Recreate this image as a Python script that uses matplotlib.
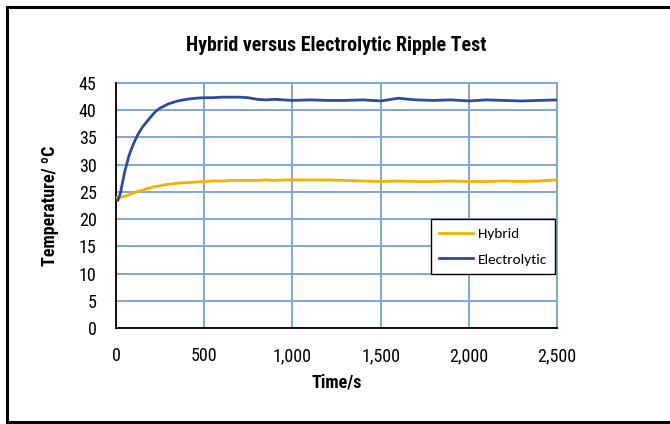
import matplotlib
matplotlib.use("Agg")
import matplotlib.pyplot as plt
from matplotlib.ticker import FuncFormatter
from matplotlib.lines import Line2D

# Data
time_s = [0, 10, 25, 50, 75, 100, 125, 150, 175, 200, 225, 250, 275, 300, 350, 400, 450, 500,
          550, 600, 650, 700, 750, 800, 850, 900, 950, 1000, 1100, 1200, 1300, 1400, 1500,
          1600, 1700, 1800, 1900, 2000, 2100, 2200, 2300, 2400, 2500]
hybrid = [23.9, 24.0, 24.0, 24.2, 24.5, 24.8, 25.1, 25.3, 25.6, 25.8, 26.0, 26.1, 26.3, 26.4,
          26.6, 26.7, 26.8, 26.9, 27.0, 27.0, 27.1, 27.1, 27.1, 27.1, 27.2, 27.1, 27.2, 27.2,
          27.2, 27.2, 27.1, 27.0, 26.9, 27.0, 26.9, 26.9, 27.0, 26.9, 26.9, 27.0, 26.9, 27.0, 27.2]
electrolytic = [23.5, 23.4, 24.8, 28.8, 31.8, 33.9, 35.6, 36.9, 37.9, 38.9, 39.8, 40.4, 40.8,
                41.2, 41.7, 42.0, 42.2, 42.3, 42.3, 42.4, 42.4, 42.4, 42.3, 42.0, 41.9, 42.0,
                41.9, 41.8, 41.9, 41.8, 41.8, 41.9, 41.7, 42.2, 41.9, 41.8, 41.9, 41.7, 41.9,
                41.8, 41.7, 41.8, 41.9]

x_ticks = [0, 500, 1000, 1500, 2000, 2500]
y_ticks = [0, 5, 10, 15, 20, 25, 30, 35, 40, 45]

cond = ['Roboto Condensed', 'Liberation Sans Narrow', 'Roboto', 'DejaVu Sans']
plt.rcParams['font.family'] = cond

fig = plt.figure(figsize=(6.7, 4.24), dpi=100)
ax = fig.add_axes([116/670, 1 - 328/424, (557 - 116)/670, (328 - 83)/424])

grid_c = '#7FA8D6'
ax.set_xlim(0, 2500)
ax.set_ylim(0, 45)
ax.set_xticks(x_ticks)
ax.set_yticks(y_ticks)
ax.grid(True, color=grid_c, linewidth=1.4)
ax.set_axisbelow(True)
for s in ['top', 'right']:
    ax.spines[s].set_visible(False)
for s in ['left', 'bottom']:
    ax.spines[s].set_color('black')
    ax.spines[s].set_linewidth(1.3)
    ax.spines[s].set_zorder(3)
ax.axhline(45, color=grid_c, linewidth=1.4, clip_on=False, zorder=1)
ax.axvline(2500, color=grid_c, linewidth=1.4, clip_on=False, zorder=1)

ax.plot(time_s, hybrid, color='#F5B000', linewidth=2.0, label='Hybrid', zorder=4)
ax.plot(time_s, electrolytic, color='#2F4A9C', linewidth=2.0, label='Electrolytic', zorder=5)

ax.xaxis.set_major_formatter(FuncFormatter(lambda v, p: f"{int(v):,}"))
ax.tick_params(axis='both', length=0, labelsize=13)
ax.tick_params(axis='x', pad=14)
ax.tick_params(axis='y', pad=14)

ax.set_xlabel('Time/s', fontsize=13, fontweight='bold', labelpad=6)
ax.set_ylabel('Temperature/ ºC', fontsize=13, fontweight='bold', labelpad=14)
ax.set_title('Hybrid versus Electrolytic Ripple Test', fontsize=14.3, fontweight='bold', pad=23)

leg = ax.legend(loc='upper left', bbox_to_anchor=((431 - 116)/441, 1 - (219 - 83)/245),
                frameon=True, fancybox=False, edgecolor='black', framealpha=1,
                prop={'family': ['Carlito', 'Lato', 'DejaVu Sans'], 'size': 11},
                handlelength=2.2, labelspacing=0.85, borderpad=0.55, handletextpad=0.3,
                borderaxespad=0)
leg.get_frame().set_linewidth(1.0)

fig.add_artist(Line2D([7/670, 7/670], [1 - 7/424, 1 - 422/424], color='black', linewidth=2.2,
                      transform=fig.transFigure))
fig.add_artist(Line2D([7/670, 1.0], [1 - 7/424, 1 - 7/424], color='black', linewidth=2.2,
                      transform=fig.transFigure))
fig.add_artist(Line2D([7/670, 1.0], [1 - 422/424, 1 - 422/424], color='black', linewidth=2.2,
                      transform=fig.transFigure))

fig.savefig('out.png', dpi=100)
